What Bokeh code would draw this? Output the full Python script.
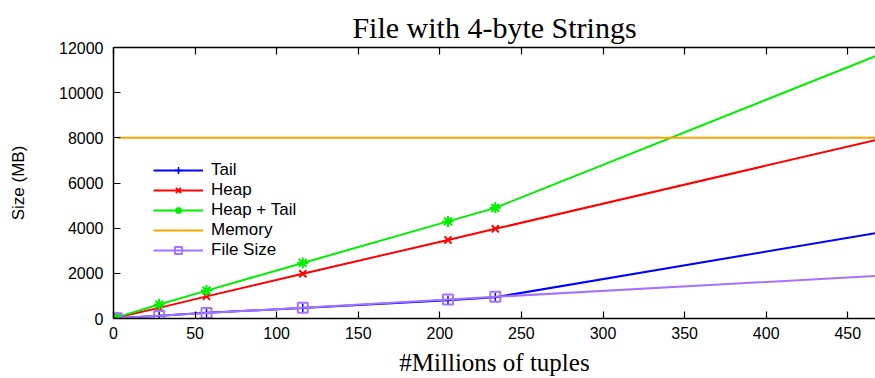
from bokeh.plotting import figure
from bokeh.models import Range1d, LinearAxis, Legend, LegendItem, FixedTicker
from bokeh.embed import file_html
from bokeh.resources import INLINE

# Data (millions of tuples vs size in MB)
x_tuples = [2, 28, 57, 116, 205, 234, 467]
tail = [10, 120, 250, 470, 810, 940, 3780]
heap = [40, 470, 980, 1980, 3480, 3970, 7900]
heap_tail = [50, 620, 1235, 2460, 4300, 4900, 11616]
memory = [8000, 8000, 8000, 8000, 8000, 8000, 8000]
file_size = [10, 120, 240, 480, 840, 960, 1884]
n_marked = 6

x_ticks = [0, 50, 100, 150, 200, 250, 300, 350, 400, 450]
y_ticks = [0, 2000, 4000, 6000, 8000, 10000, 12000]

TAIL_C = "#0000ff"
HEAP_C = "#ff0000"
HT_C = "#00ee00"
MEM_C = "#ffa500"
FS_C = "#a673ff"

SANS = "Liberation Sans"
SERIF = "Liberation Serif"

p = figure(width=875, height=378, output_backend="svg", toolbar_location=None,
           x_range=Range1d(0, 467), y_range=Range1d(0, 12000),
           min_border_left=113, min_border_right=0, min_border_top=47,
           min_border_bottom=59, x_axis_location=None, y_axis_location=None)
p.outline_line_color = None
p.grid.visible = False
p.background_fill_color = "white"
p.border_fill_color = "white"

p.title.text = "File with 4-byte Strings"
p.title.text_font = SERIF
p.title.text_font_size = "30px"
p.title.text_font_style = "normal"
p.title.text_color = "black"
p.title.align = "center"
p.title.text_line_height = 0.8
p.title.standoff = 8
p.title.offset = 0

def style_axis(ax):
    ax.axis_line_color = "black"
    ax.axis_line_width = 1.5
    ax.major_tick_in = 7
    ax.major_tick_out = 0
    ax.major_tick_line_color = "black"
    ax.major_tick_line_width = 1.2
    ax.minor_tick_line_color = None
    ax.major_label_text_font = SANS
    ax.major_label_text_font_size = "16px"
    ax.major_label_text_color = "black"
    ax.axis_label_text_color = "black"

xb = LinearAxis(ticker=FixedTicker(ticks=x_ticks), axis_label="#Millions of tuples")
style_axis(xb)
xb.major_label_standoff = 8
xb.axis_label_text_font = SERIF
xb.axis_label_text_font_size = "25px"
xb.axis_label_text_font_style = "normal"
xb.axis_label_standoff = 7
p.add_layout(xb, "below")

xa = LinearAxis(ticker=FixedTicker(ticks=x_ticks))
style_axis(xa)
xa.major_label_overrides = {t: "" for t in x_ticks}
xa.major_label_text_font_size = "1px"
xa.major_label_standoff = 0
p.add_layout(xa, "above")

yl = LinearAxis(ticker=FixedTicker(ticks=y_ticks), axis_label="Size (MB)")
style_axis(yl)
yl.major_label_standoff = 10
yl.axis_label_text_font = SANS
yl.axis_label_text_font_size = "17px"
yl.axis_label_text_font_style = "normal"
yl.axis_label_standoff = 28
p.add_layout(yl, "left")

LW = 2
r_tail = p.line(x_tuples, tail, line_color=TAIL_C, line_width=LW)
m_tail = p.scatter(x_tuples[:n_marked], tail[:n_marked], marker="cross", size=9,
                   line_color=TAIL_C, line_width=1.5)
r_heap = p.line(x_tuples, heap, line_color=HEAP_C, line_width=LW)
m_heap = p.scatter(x_tuples[:n_marked], heap[:n_marked], marker="x", size=10,
                   line_color=HEAP_C, line_width=2)
r_ht = p.line(x_tuples, heap_tail, line_color=HT_C, line_width=LW)
m_ht = p.scatter(x_tuples[:n_marked], heap_tail[:n_marked], marker="asterisk", size=11,
                 line_color=HT_C, line_width=2)
r_mem = p.line(x_tuples, memory, line_color=MEM_C, line_width=LW)
r_fs = p.line(x_tuples, file_size, line_color=FS_C, line_width=LW)
m_fs = p.scatter(x_tuples[:n_marked], file_size[:n_marked], marker="square", size=10,
                 line_color=FS_C, fill_color=None, line_width=2)

legend = Legend(items=[
    LegendItem(label="Tail", renderers=[r_tail, m_tail]),
    LegendItem(label="Heap", renderers=[r_heap, m_heap]),
    LegendItem(label="Heap + Tail", renderers=[r_ht, m_ht]),
    LegendItem(label="Memory", renderers=[r_mem]),
    LegendItem(label="File Size", renderers=[r_fs, m_fs]),
], location=(40, 58))
legend.background_fill_alpha = 0
legend.border_line_color = None
legend.label_text_font = SANS
legend.label_text_font_size = "17px"
legend.label_text_color = "black"
legend.glyph_width = 50
legend.glyph_height = 18
legend.label_height = 18
legend.spacing = 0
legend.padding = 0
legend.margin = 0
legend.label_standoff = 8
p.add_layout(legend, "center")

open("out.html", "w").write(file_html(p, INLINE))
